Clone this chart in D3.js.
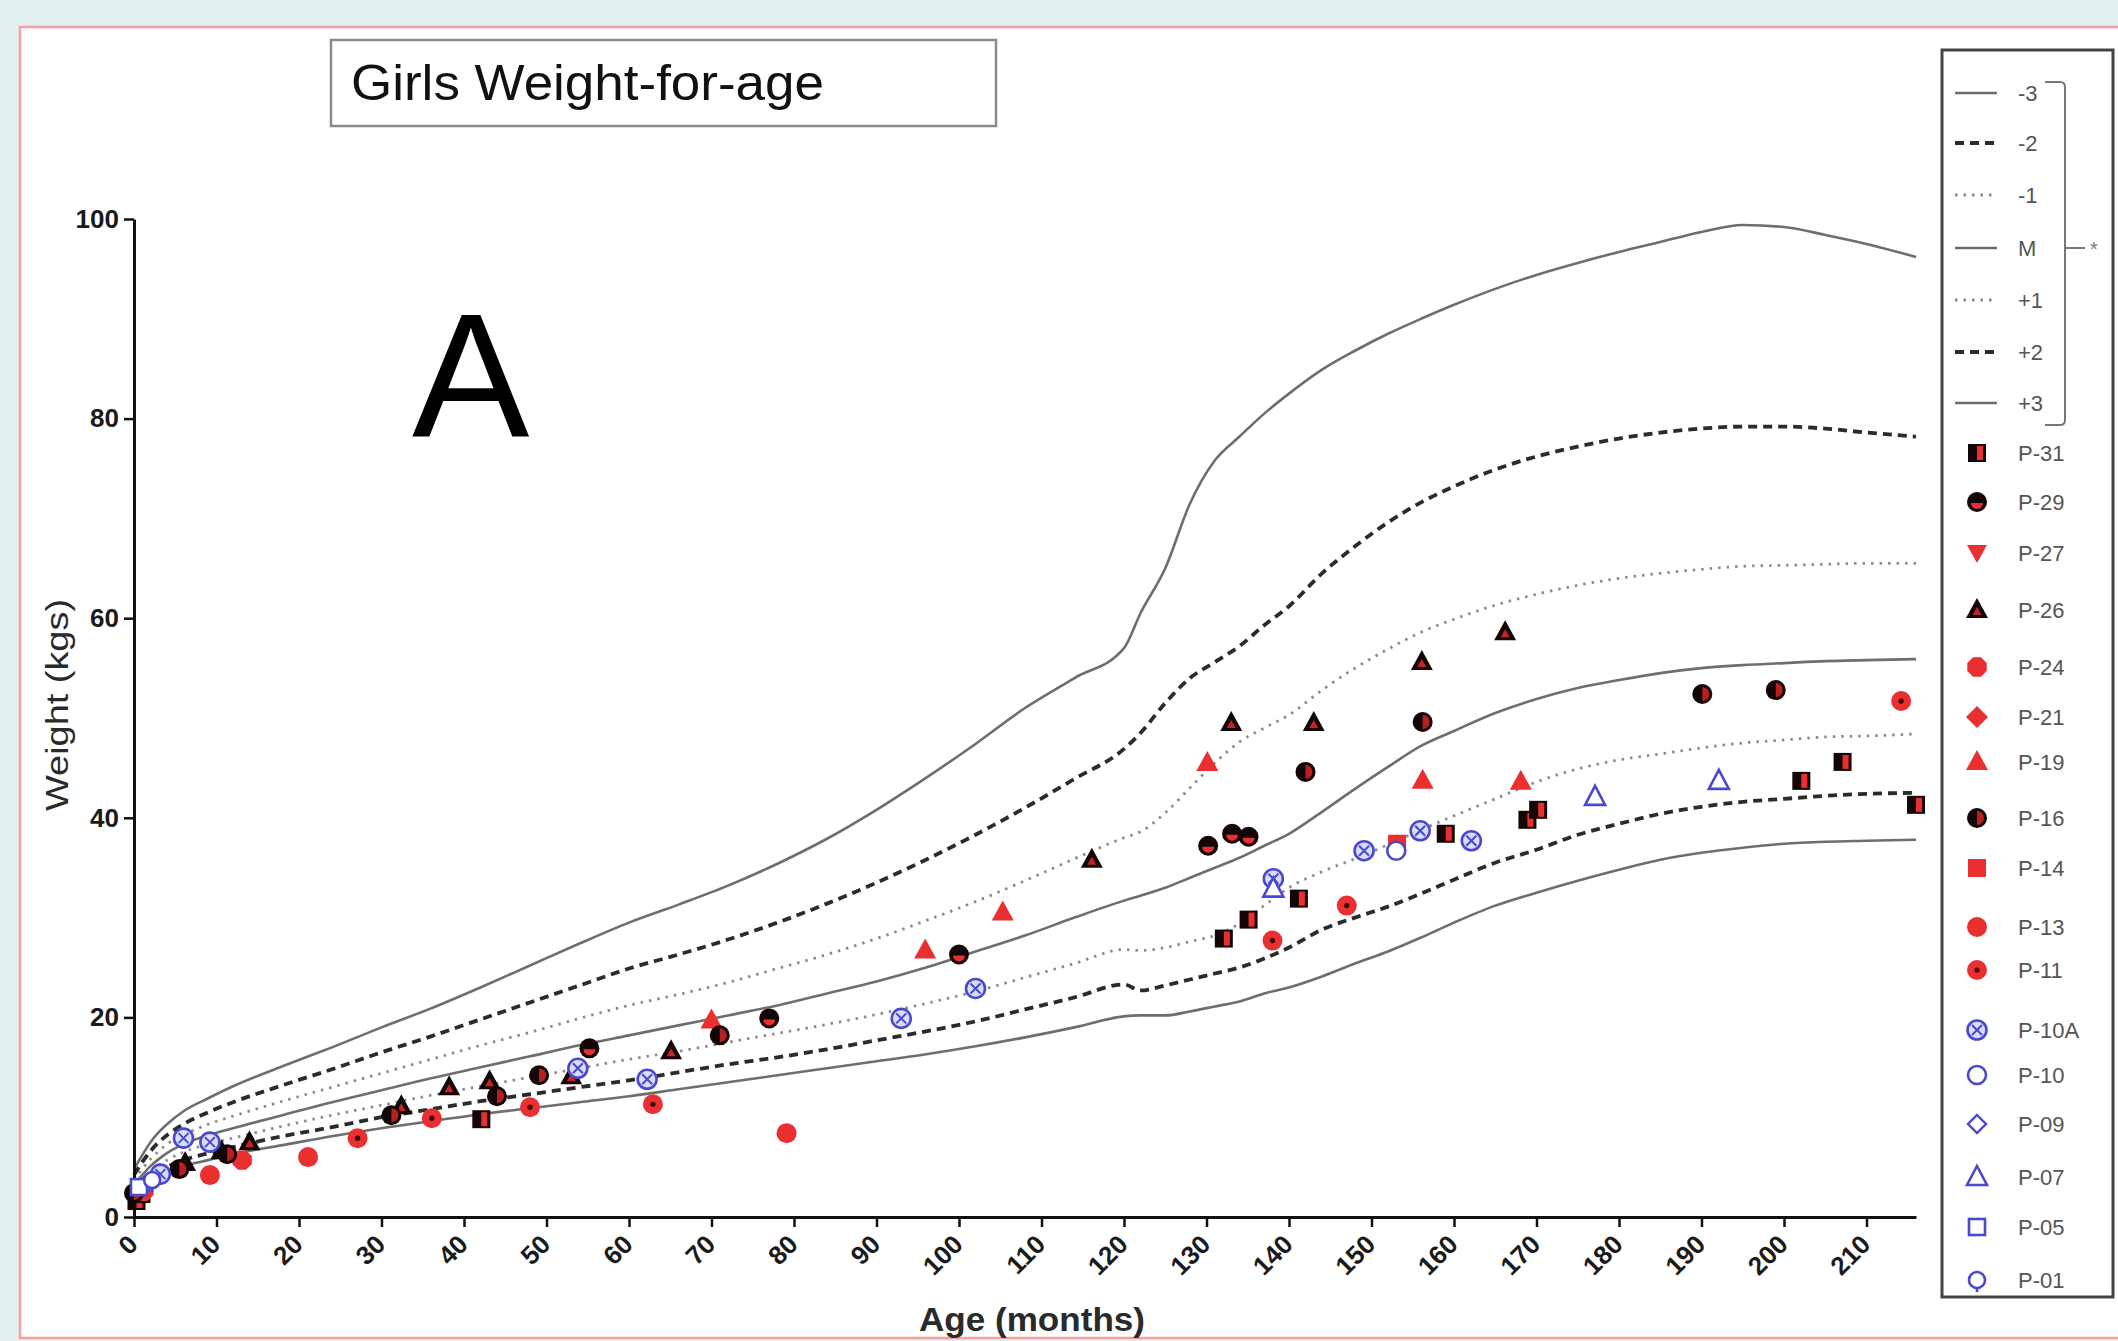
<!DOCTYPE html>
<html><head><meta charset="utf-8">
<script src="https://cdn.jsdelivr.net/npm/d3@7"></script>
<style>
html,body{margin:0;padding:0;background:#e3f0f2;}
svg{display:block}
</style></head><body>
<svg id="c" width="2118" height="1341"></svg>
<script>
// ---------------- DATA ----------------
const months = [0,1,2,3,4,6,9,12,18,24,30,36,42,48,54,60,66,72,78,84,90,96,102,108,114,120,
  122,125,128,131,134,137,140,144,148,152,156,160,165,170,175,180,185,190,195,200,205,210,216];

const sdNeg3 = [2.0,2.7,3.4,4.0,4.4,5.1,5.7,6.3,7.2,8.1,8.9,9.6,10.3,10.9,11.5,12.1,12.8,13.5,14.2,14.9,15.6,16.3,17.1,18.0,19.0,20.1,
  20.2,20.2,20.6,21.1,21.6,22.4,23.0,24.1,25.4,26.6,28.0,29.5,31.2,32.5,33.7,34.8,35.8,36.5,37.0,37.4,37.6,37.7,37.8];
const sdNeg2 = [2.4,3.2,3.9,4.5,5.0,5.7,6.4,7.0,8.1,9.0,10.0,10.8,11.6,12.3,13.0,13.7,14.5,15.3,16.0,16.8,17.7,18.6,19.6,20.8,22.0,23.3,
  22.7,23.2,23.8,24.4,25.0,25.9,27.0,28.8,30.0,31.1,32.4,33.8,35.5,36.8,38.3,39.4,40.4,41.1,41.6,41.9,42.2,42.4,42.5];
const sdNeg1 = [2.8,3.6,4.5,5.2,5.7,6.5,7.3,7.9,9.1,10.2,11.2,12.2,13.1,14.0,14.9,15.8,16.6,17.5,18.4,19.3,20.3,21.4,22.6,24.0,25.4,26.8,
  26.7,27.0,27.6,28.2,29.4,31.2,33.0,34.6,35.9,37.3,38.8,40.2,41.9,43.6,44.9,45.8,46.4,47.0,47.5,47.8,48.1,48.2,48.4];
const median = [3.2,4.2,5.1,5.8,6.4,7.3,8.2,8.9,10.2,11.5,12.7,13.9,15.0,16.1,17.2,18.2,19.2,20.2,21.2,22.4,23.6,25.0,26.6,28.2,30.0,31.7,
  32.2,33.0,34.0,35.0,36.0,37.2,38.4,40.6,42.9,45.1,47.2,48.7,50.5,51.9,53.0,53.8,54.5,55.0,55.3,55.5,55.7,55.8,55.9];
const sdPos1 = [3.7,4.8,5.8,6.6,7.3,8.2,9.3,10.1,11.6,13.0,14.4,15.8,17.2,18.5,19.9,21.2,22.3,23.5,24.9,26.3,27.9,29.7,31.6,33.7,35.9,38.0,
  38.6,40.5,43.0,45.5,47.6,49.0,50.3,52.8,55.0,56.9,58.6,59.9,61.3,62.4,63.3,64.0,64.5,64.9,65.2,65.3,65.4,65.5,65.5];
const sdPos2 = [4.2,5.5,6.6,7.5,8.2,9.3,10.5,11.5,13.2,14.8,16.5,18.1,19.8,21.5,23.2,24.9,26.3,27.8,29.5,31.4,33.5,35.8,38.3,41.0,43.9,46.9,
  48.5,51.5,54.0,55.6,57.2,59.3,61.2,64.5,67.2,69.6,71.6,73.2,74.9,76.2,77.2,78.0,78.6,79.0,79.2,79.2,79.0,78.6,78.2];
const sdPos3 = [4.8,6.2,7.5,8.5,9.3,10.6,11.9,13.1,15.1,17.0,19.0,20.9,23.0,25.2,27.4,29.5,31.3,33.2,35.4,37.9,40.8,44.0,47.4,51.0,54.0,57.0,
  60.5,65.0,71.5,75.8,78.2,80.5,82.5,84.9,86.8,88.5,90.0,91.4,93.0,94.4,95.6,96.7,97.7,98.7,99.4,99.2,98.4,97.5,96.2];

const curveLabels = ["-3","-2","-1","M","+1","+2","+3"];

// patient observations: [age in months, weight kg]
const p31 = [[0.3,1.6],[0.9,2.3],[42.1,9.8],[132.1,27.9],[135.1,29.8],[141.2,31.9],[159.0,38.4],[168.9,39.8],[170.2,40.8],[202.1,43.7],[207.1,45.6],[216.0,41.3]];
const p29 = [[55.2,16.9],[77.0,19.9],[100.0,26.3],[130.2,37.2],[133.1,38.4],[135.1,38.1]];
const p27 = [];
const p26 = [[6.2,5.4],[10.6,6.6],[14.0,7.5],[32.4,11.1],[38.2,13.0],[43.1,13.6],[53.0,14.1],[65.1,16.6],[116.1,35.8],[133.0,49.5],[143.0,49.5],[156.1,55.6],[166.2,58.6]];
const p24 = [[1.2,2.6],[13.1,5.7]];
const p21 = [];
const p19 = [[70.0,19.7],[95.9,26.7],[105.3,30.5],[130.1,45.5],[156.2,43.7],[168.1,43.6]];
const p16 = [[0.0,2.4],[5.5,4.8],[11.3,6.3],[31.2,10.2],[44.0,12.1],[49.1,14.2],[71.0,18.2],[142.0,44.6],[156.2,49.6],[190.1,52.4],[199.0,52.8]];
const p14 = [[153.1,37.4]];
const p13 = [[9.2,4.2],[21.1,6.0],[79.1,8.4]];
const p11 = [[27.1,7.9],[36.1,9.9],[48.0,11.0],[62.9,11.3],[138.0,27.7],[147.0,31.2],[214.2,51.7]];
const p10A = [[3.2,4.3],[6.0,7.9],[9.2,7.5],[53.8,14.9],[62.2,13.8],[93.0,19.9],[102.0,22.9],[138.1,33.9],[149.1,36.7],[155.9,38.7],[162.1,37.7]];
const p10 = [[153.0,36.7]];
const p09 = [[1.6,3.4]];
const p07 = [[138.1,32.9],[177.1,42.1],[192.1,43.7]];
const p05 = [[0.6,3.0]];
const p01 = [[2.2,3.7]];

const patientNames = ["P-31","P-29","P-27","P-26","P-24","P-21","P-19","P-16","P-14","P-13","P-11","P-10A","P-10","P-09","P-07","P-05","P-01"];
const patientData  = [p31,p29,p27,p26,p24,p21,p19,p16,p14,p13,p11,p10A,p10,p09,p07,p05,p01];

const xTicks = d3.range(0, 211, 10);
const yTicks = [0,20,40,60,80,100];

// ---------------- STYLE ----------------
const RED = "#ea2f30", DARK = "#140606", BLUE = "#4a48cf";
const curveStyles = {
  solid:  {stroke:"#6e6e6e", width:2.6, dash:null},
  dashed: {stroke:"#2b2b2b", width:3.8, dash:"9,6"},
  dotted: {stroke:"#8c8c8c", width:2.8, dash:"2.5,6"}
};
const curveKinds = ["solid","dashed","dotted","solid","dotted","dashed","solid"];
const curveValues = [sdNeg3, sdNeg2, sdNeg1, median, sdPos1, sdPos2, sdPos3];
const markerKinds = ["sqHalf","circBottom","triDown","triDark","oct","diamond","tri","circHalf","sq","circ","circDot","circX","circOpen","diamondOpen","triOpen","sqOpen","circStem"];

const svg = d3.select("#c");
svg.append("rect").attr("width",2118).attr("height",1341).attr("fill","#e3f0f2");
svg.append("rect").attr("x",20).attr("y",27).attr("width",2120).attr("height",1311)
  .attr("fill","#fff").attr("stroke","#f3a0a0").attr("stroke-width",2.5);

const x = d3.scaleLinear().domain([0,216]).range([134,1916]);
const y = d3.scaleLinear().domain([0,100]).range([1217,219]);

// title box
svg.append("rect").attr("x",331).attr("y",40).attr("width",665).attr("height",86)
  .attr("fill","#fff").attr("stroke","#8a8a8a").attr("stroke-width",2.5);
svg.append("text").attr("x",351).attr("y",100).attr("font-family","Liberation Sans, Arial, sans-serif")
  .attr("font-size",50).attr("fill","#111").attr("textLength",473).attr("lengthAdjust","spacingAndGlyphs")
  .text("Girls Weight-for-age");

svg.append("text").attr("x",412).attr("y",437).attr("font-family","Liberation Sans, Arial, sans-serif")
  .attr("font-size",176).attr("fill","#000").text("A");

// curves
const line = d3.line().x((d,i)=>x(months[i])).y(d=>y(d)).curve(d3.curveMonotoneX);
const cg = svg.append("g");
curveValues.forEach((vals,k)=>{
  const st = curveStyles[curveKinds[k]];
  cg.append("path").attr("d", line(vals)).attr("fill","none")
    .attr("stroke",st.stroke).attr("stroke-width",st.width)
    .attr("stroke-dasharray",st.dash);
});

// axes
const yAxis = svg.append("g").attr("transform",`translate(${x(0)},0)`)
  .call(d3.axisLeft(y).tickValues(yTicks).tickSize(10).tickSizeOuter(0).tickPadding(5));
const xAxis = svg.append("g").attr("transform",`translate(0,${y(0)})`)
  .call(d3.axisBottom(x).tickValues(xTicks).tickSize(10).tickSizeOuter(0));
[yAxis,xAxis].forEach(a=>{
  a.selectAll("path.domain").attr("stroke","#111").attr("stroke-width",3);
  a.selectAll(".tick line").attr("stroke","#111").attr("stroke-width",2.5);
  a.selectAll(".tick text").attr("font-family","Liberation Sans, Arial, sans-serif")
    .attr("font-weight","bold").attr("font-size",26).attr("fill","#1a1a1a");
});
xAxis.selectAll(".tick text").attr("x",0).attr("y",0).attr("dy",0)
  .attr("text-anchor","end").attr("transform","translate(5,29) rotate(-45)");

// axis titles
svg.append("text").attr("transform","translate(68,705) rotate(-90)").attr("text-anchor","middle")
  .attr("font-family","Liberation Sans Narrow, Arial Narrow, Liberation Sans, sans-serif")
  .attr("font-size",31).attr("fill","#2a2a2a").attr("textLength",212).attr("lengthAdjust","spacingAndGlyphs")
  .text("Weight (kgs)");
svg.append("text").attr("x",1032).attr("y",1331).attr("text-anchor","middle")
  .attr("font-family","Liberation Sans Narrow, Arial Narrow, Liberation Sans, sans-serif")
  .attr("font-size",33).attr("font-weight","bold").attr("fill","#2a2a2a").attr("textLength",226).attr("lengthAdjust","spacingAndGlyphs")
  .text("Age (months)");

// markers
function poly(n, r, rot){
  return d3.range(n).map(i=>{const a=rot+i*2*Math.PI/n; return [r*Math.cos(a), r*Math.sin(a)];});
}
function drawMarker(g, kind){
  const P = pts => "M"+pts.map(p=>p.join(",")).join("L")+"Z";
  switch(kind){
    case "sqHalf":
      g.append("rect").attr("x",-9).attr("y",-9).attr("width",18).attr("height",18).attr("fill",DARK);
      g.append("rect").attr("x",0).attr("y",-7).attr("width",6).attr("height",14).attr("fill",RED); break;
    case "circBottom":
      g.append("circle").attr("r",10).attr("fill",DARK);
      g.append("path").attr("d","M-6,1A6,6 0 0 0 6,1Z").attr("fill",RED); break;
    case "triDown":
      g.append("path").attr("d",P([[-10,-8],[10,-8],[0,10]])).attr("fill",RED); break;
    case "triDark":
      g.append("path").attr("d",P([[0,-12],[11,8],[-11,8]])).attr("fill",DARK);
      g.append("path").attr("d",P([[0,-3],[4.5,5],[-4.5,5]])).attr("fill","#c42424"); break;
    case "oct":
      g.append("path").attr("d",P(poly(8,10.5,Math.PI/8))).attr("fill",RED); break;
    case "diamond":
      g.append("path").attr("d",P([[0,-11],[11,0],[0,11],[-11,0]])).attr("fill",RED); break;
    case "tri":
      g.append("path").attr("d",P([[0,-12],[11,8],[-11,8]])).attr("fill",RED); break;
    case "circHalf":
      g.append("circle").attr("r",10).attr("fill",DARK);
      g.append("path").attr("d","M0,-7A7,7 0 0 1 0,7Z").attr("fill","#b82020"); break;
    case "sq":
      g.append("rect").attr("x",-9).attr("y",-9).attr("width",18).attr("height",18).attr("fill",RED); break;
    case "circ":
      g.append("circle").attr("r",10).attr("fill",RED); break;
    case "circDot":
      g.append("circle").attr("r",10).attr("fill",RED);
      g.append("circle").attr("r",2.6).attr("fill","#3a0505"); break;
    case "circX":
      g.append("circle").attr("r",9.5).attr("fill","#d8dcff").attr("stroke",BLUE).attr("stroke-width",2.6);
      g.append("path").attr("d","M-5,-5L5,5M5,-5L-5,5").attr("stroke",BLUE).attr("stroke-width",2);
      break;
    case "circOpen":
      g.append("circle").attr("r",9).attr("fill","#fff").attr("stroke",BLUE).attr("stroke-width",2.6); break;
    case "diamondOpen":
      g.append("path").attr("d",P([[0,-9],[9,0],[0,9],[-9,0]])).attr("fill","#fff").attr("stroke",BLUE).attr("stroke-width",2.4); break;
    case "triOpen":
      g.append("path").attr("d",P([[0,-11],[10,8],[-10,8]])).attr("fill","#fff").attr("stroke",BLUE).attr("stroke-width",2.6); break;
    case "sqOpen":
      g.append("rect").attr("x",-8).attr("y",-8).attr("width",16).attr("height",16).attr("fill","#fff").attr("stroke",BLUE).attr("stroke-width",2.6); break;
    case "circStem":
      g.append("circle").attr("r",8).attr("fill","#fff").attr("stroke",BLUE).attr("stroke-width",2.6);
      g.append("path").attr("d","M0,8L0,12").attr("stroke",BLUE).attr("stroke-width",2.6); break;
  }
}

const pg = svg.append("g");
patientData.forEach((arr,k)=>{
  arr.forEach(d=>{
    const g = pg.append("g").attr("transform",`translate(${x(d[0])},${y(d[1])})`);
    drawMarker(g, markerKinds[k]);
  });
});

// legend
const lg = svg.append("g");
lg.append("rect").attr("x",1942).attr("y",50).attr("width",171).attr("height",1247)
  .attr("fill","#fff").attr("stroke","#444").attr("stroke-width",3);
const lineRowY = [93,143,195,248,300,352,403];
curveLabels.forEach((lab,k)=>{
  const st = curveStyles[curveKinds[k]];
  lg.append("line").attr("x1",1955).attr("x2",1997).attr("y1",lineRowY[k]).attr("y2",lineRowY[k])
    .attr("stroke",st.stroke).attr("stroke-width",st.width).attr("stroke-dasharray",st.dash);
  lg.append("text").attr("x",2018).attr("y",lineRowY[k]).attr("dy","0.35em")
    .attr("font-family","Liberation Sans, Arial, sans-serif").attr("font-size",22).attr("fill","#555").text(lab);
});
const markRowY = [453,502,553,610,667,717,762,818,868,927,970,1030,1075,1124,1177,1227,1280];
patientNames.forEach((nm,k)=>{
  const g = lg.append("g").attr("transform",`translate(1977,${markRowY[k]})`);
  drawMarker(g, markerKinds[k]);
  lg.append("text").attr("x",2018).attr("y",markRowY[k]).attr("dy","0.35em")
    .attr("font-family","Liberation Sans, Arial, sans-serif").attr("font-size",22).attr("fill","#555").text(nm);
});
// bracket
lg.append("path").attr("d","M2045,82L2060,82Q2065,82 2065,87L2065,420Q2065,425 2060,425L2045,425M2065,248L2085,248")
  .attr("fill","none").attr("stroke","#777").attr("stroke-width",2);
lg.append("text").attr("x",2090).attr("y",256).attr("font-family","Liberation Sans, Arial, sans-serif")
  .attr("font-size",20).attr("fill","#777").text("*");
</script>
</body></html>
